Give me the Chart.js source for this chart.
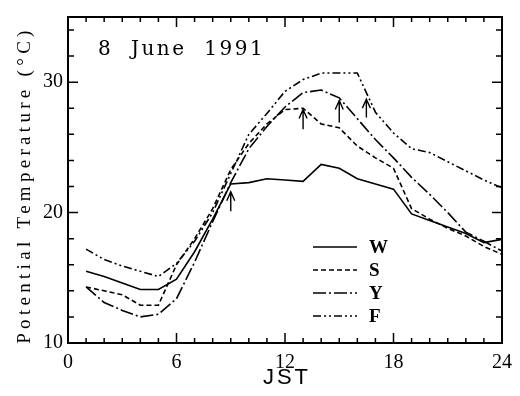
<!DOCTYPE html>
<html>
<head>
<meta charset="utf-8">
<script src="https://cdn.jsdelivr.net/npm/chart.js@4/dist/chart.umd.min.js"></script>
<style>
  html, body { margin: 0; padding: 0; background: #fff; }
  canvas { display: block; }
</style>
</head>
<body>
<canvas id="tempChart" width="520" height="396"></canvas>
<script>
// hourly potential temperature, 8 June 1991
const hours = [1, 2, 3, 4, 5, 6, 7, 8, 9, 10, 11, 12, 13, 14, 15, 16, 17, 18, 19, 20, 21, 22, 23, 24];
const seriesNames = ['W', 'S', 'Y', 'F'];
const wTemp = [15.5, 15.1, 14.6, 14.1, 14.1, 14.9, 17.0, 19.5, 22.2, 22.3, 22.6, 22.5, 22.4, 23.7, 23.4, 22.6, 22.2, 21.8, 19.9, 19.4, 18.9, 18.4, 17.7, 17.95];
const sTemp = [14.3, 14.0, 13.7, 12.9, 12.9, 16.0, 18.0, 20.3, 23.3, 25.3, 26.8, 27.9, 28.0, 26.8, 26.5, 25.1, 24.2, 23.4, 20.3, 19.5, 18.8, 18.2, 17.4, 16.8];
const yTemp = [14.3, 13.1, 12.5, 12.0, 12.2, 13.4, 16.2, 19.3, 22.3, 24.9, 26.6, 28.1, 29.2, 29.4, 28.8, 27.2, 25.6, 24.2, 22.7, 21.4, 20.0, 18.5, 17.8, 17.05];
const fTemp = [17.2, 16.4, 15.9, 15.5, 15.1, 16.1, 17.8, 20.0, 23.0, 26.0, 27.6, 29.3, 30.2, 30.7, 30.7, 30.7, 27.7, 26.1, 24.9, 24.6, 23.9, 23.2, 22.5, 21.9];

// sea breeze arrival arrows
const arrowHours = [9, 13, 15, 16.5];
const arrowTips = [21.6, 27.9, 28.6, 28.7];
const arrowTails = [20.1, 26.4, 26.9, 27.3];

const xTickLabels = [0, 6, 12, 18, 24];
const yTickLabels = [10, 20, 30];

const dashes = [[], [5, 3], [13, 3, 2, 3], [8, 3, 2, 3, 2, 3]];
const allTemps = [wTemp, sTemp, yTemp, fTemp];

const framePlugin = {
  id: 'frame',
  afterDraw(chart) {
    const { ctx, chartArea: a, scales } = chart;
    const xs = scales.x, ys = scales.y;
    ctx.save();
    ctx.strokeStyle = '#000';
    ctx.fillStyle = '#000';

    // box
    ctx.lineWidth = 2;
    ctx.strokeRect(a.left, a.top, a.right - a.left, a.bottom - a.top);

    // inward ticks
    ctx.lineWidth = 1.5;
    ctx.beginPath();
    for (let h = 1; h < 24; h++) {
      const px = xs.getPixelForValue(h);
      const len = h % 6 === 0 ? 10 : 5;
      ctx.moveTo(px, a.bottom); ctx.lineTo(px, a.bottom - len);
      ctx.moveTo(px, a.top); ctx.lineTo(px, a.top + len);
    }
    for (let v = 12; v < 35; v += 2) {
      const py = ys.getPixelForValue(v);
      const len = v % 10 === 0 ? 10 : 6;
      ctx.moveTo(a.left, py); ctx.lineTo(a.left + len, py);
      ctx.moveTo(a.right, py); ctx.lineTo(a.right - len, py);
    }
    ctx.stroke();

    // arrows
    ctx.lineWidth = 1.4;
    arrowHours.forEach((h, i) => {
      const px = xs.getPixelForValue(h);
      const tip = ys.getPixelForValue(arrowTips[i]);
      const tail = ys.getPixelForValue(arrowTails[i]);
      ctx.beginPath();
      ctx.moveTo(px, tail); ctx.lineTo(px, tip);
      ctx.moveTo(px - 4, tip + 9); ctx.lineTo(px, tip); ctx.lineTo(px + 4, tip + 9);
      ctx.stroke();
    });

    // date label
    ctx.font = '20px "DejaVu Serif"';
    ctx.letterSpacing = '2.5px';
    ctx.textBaseline = 'alphabetic';
    ctx.textAlign = 'left';
    ctx.fillText('8  June  1991', 98, 55);
    ctx.letterSpacing = '0px';

    // legend
    ctx.font = 'bold 19px "Liberation Serif"';
    ctx.textBaseline = 'middle';
    const legY = [247, 270, 293, 316];
    seriesNames.forEach((name, i) => {
      ctx.lineWidth = 1.6;
      ctx.setLineDash(dashes[i]);
      ctx.beginPath();
      ctx.moveTo(313, legY[i]); ctx.lineTo(357, legY[i]);
      ctx.stroke();
      ctx.setLineDash([]);
      ctx.fillText(name, 369, legY[i] + 1);
    });

    // axis titles
    ctx.font = '22px "Liberation Sans"';
    ctx.letterSpacing = '3px';
    ctx.textAlign = 'center';
    ctx.textBaseline = 'alphabetic';
    ctx.fillText('JST', (a.left + a.right) / 2 + 2, 384);

    ctx.save();
    ctx.translate(30, 185);
    ctx.rotate(-Math.PI / 2);
    ctx.font = '19px "Liberation Serif"';
    ctx.letterSpacing = '4.3px';
    ctx.fillText('Potential Temperature (°C)', 0, 0);
    ctx.restore();

    ctx.restore();
  }
};

new Chart(document.getElementById('tempChart'), {
  type: 'line',
  data: {
    datasets: seriesNames.map((name, i) => ({
      label: name,
      data: hours.map((h, j) => ({ x: h, y: allTemps[i][j] })),
      borderColor: '#000',
      borderWidth: 1.6,
      borderDash: dashes[i],
      pointRadius: 0,
      tension: 0,
      fill: false
    }))
  },
  options: {
    responsive: false,
    devicePixelRatio: 1,
    animation: false,
    layout: { padding: { left: 0, top: 8, right: 13, bottom: 0 } },
    plugins: { legend: { display: false }, tooltip: { enabled: false } },
    scales: {
      x: {
        type: 'linear', min: 0, max: 24,
        grid: { display: false, drawTicks: false },
        border: { display: false },
        afterBuildTicks: s => { s.ticks = xTickLabels.map(v => ({ value: v })); },
        afterFit: s => { s.height = 53; },
        ticks: { color: '#000', padding: 8, maxRotation: 0, font: { family: 'Liberation Serif', size: 20 } }
      },
      y: {
        type: 'linear', min: 10, max: 35,
        grid: { display: false, drawTicks: false },
        border: { display: false },
        afterBuildTicks: s => { s.ticks = yTickLabels.map(v => ({ value: v })); },
        afterFit: s => { s.width = 68; },
        ticks: { color: '#000', padding: 5, font: { family: 'Liberation Serif', size: 20 } }
      }
    }
  },
  plugins: [framePlugin]
});
</script>
</body>
</html>
